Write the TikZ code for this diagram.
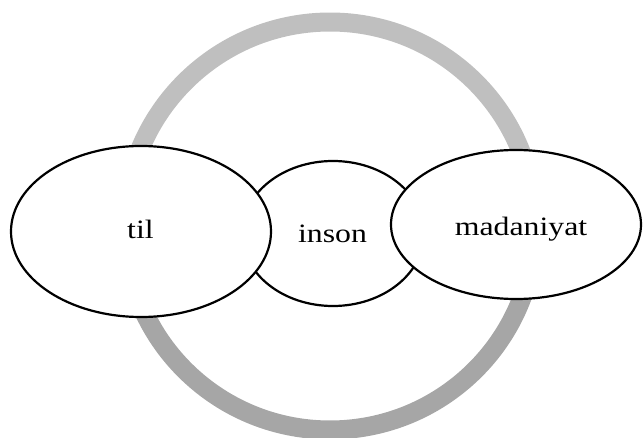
\documentclass[tikz,border=0pt]{standalone}
\usepackage{fontspec}
\usepackage{graphicx}
\setmainfont{Liberation Serif}
\usetikzlibrary{shapes.geometric}
\definecolor{ringtop}{HTML}{BFBFBF}
\definecolor{ringbot}{HTML}{A6A6A6}
\tikzset{
  ringarc/.style={line width=19pt},
  bubble/.style={ellipse, draw=black, line width=2.2pt, fill=white, inner sep=0pt, outer sep=0pt},
  word/.style={anchor=base, inner sep=0pt, font=\fontsize{26.5pt}{30pt}\selectfont},
}
\newcommand{\wide}[1]{\scalebox{1.2}[1]{#1}}
\begin{document}
\begin{tikzpicture}[x=1pt,y=1pt]
\useasboundingbox (0,0) rectangle (643,437);
\clip (0,0) rectangle (643,437);
% ring
\begin{scope}[shift={(330,211)}, rotate=1.1]
  \draw[ringarc, ringtop] (205,0) arc[start angle=0, end angle=180, x radius=205, y radius=204];
  \draw[ringarc, ringbot] (-205,0) arc[start angle=180, end angle=360, x radius=205, y radius=204];
\end{scope}
% bubbles
\node[bubble, minimum width=182pt, minimum height=145pt] (inson) at (333,203.5) {};
\node[bubble, minimum width=260pt, minimum height=171pt] (til) at (141,205.5) {};
\node[bubble, minimum width=250pt, minimum height=149pt] (madaniyat) at (516,212.5) {};
% texts
\node[word] (tiltext) at (140.5,198) {\wide{til}};
\node[word] (insontext) at (332.5,194) {\wide{inson}};
\node[word] (madtext) at (521,201) {\wide{madaniyat}};
\end{tikzpicture}
\end{document}
